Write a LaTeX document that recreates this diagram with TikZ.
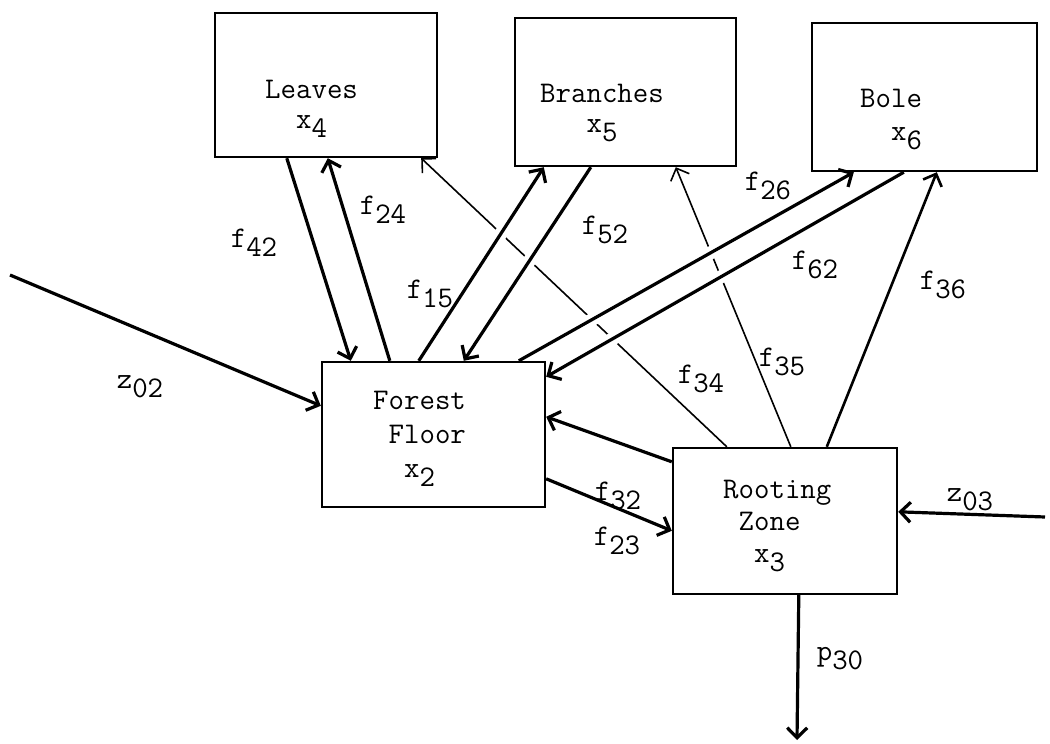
\documentclass[tikz,border=0pt]{standalone}
\usepackage{fontspec}
\usetikzlibrary{arrows.meta}
\pgfdeclarelayer{fg}
\pgfsetlayers{main,fg}
\newcommand\lowr[1]{\raisebox{-9pt}{#1}}
\begin{document}
\begin{tikzpicture}[x=1pt,y=-1pt,
  every node/.style={font=\ttfamily\fontsize{30pt}{32pt}\selectfont, inner sep=0pt},
  box/.style={draw, line width=2.4pt, rectangle},
  boxtext/.style={anchor=base west, align=left},
  flow/.style={line width=3.2pt, -{Straight Barb[length=10pt,width=20pt]}},
  midflow/.style={line width=2.6pt, -{Straight Barb[length=10pt,width=20pt]}},
  thinflow/.style={line width=1.6pt, -{Straight Barb[length=10pt,width=20pt]}},
  gapped/.style={preaction={draw=white, line width=13pt, arrows=-}},
  lab/.style={}]
\useasboundingbox (0,0) rectangle (1050,744);
\fill[white] (0,0) rectangle (1050,744);

\begin{pgfonlayer}{fg}
\node[box, minimum width=222pt, minimum height=144pt] (leaves) at (326,85) {};
\node[box, minimum width=221pt, minimum height=148pt] (branches) at (625.5,92) {};
\node[box, minimum width=225pt, minimum height=148pt] (bole) at (924.5,97) {};
\node[box, minimum width=223pt, minimum height=145pt] (forest) at (433.5,434.5) {};
\node[box, minimum width=224pt, minimum height=146pt] (rooting) at (785,521) {};

\node[boxtext, font=\ttfamily\fontsize{30pt}{30pt}\selectfont] (leavesT) at (265,128) {Leaves\\\phantom{Le}x\lowr{4}};
\node[boxtext, font=\ttfamily\fontsize{30pt}{30pt}\selectfont] (branchesT) at (540,132) {Branches\\\phantom{Bra}x\lowr{5}};
\node[boxtext, font=\ttfamily\fontsize{30pt}{33pt}\selectfont] (boleT) at (860,140) {Bole\\\phantom{Bo}x\lowr{6}};
\node[boxtext, font=\ttfamily\fontsize{30pt}{34pt}\selectfont] (forestT) at (373,477) {Forest\\\phantom{F}Floor\\\phantom{Fo}x\lowr{2}};
\node[boxtext, font=\ttfamily\fontsize{30pt}{32pt}\selectfont] (rootingT) at (723,562) {Rooting\\\phantom{R}Zone\\\phantom{Ro}x\lowr{3}};
\end{pgfonlayer}

\coordinate (z02start) at (10,275);
\coordinate (z03start) at (1045,517);
\coordinate (p30end) at (797,740);

% thin flows (drawn first so the thick ones cut gaps in them)
\draw[thinflow] ([xshift=55pt]rooting.north west) -- ([xshift=-17pt]leaves.south east);
\draw[thinflow] ([xshift=119pt]rooting.north west) -- ([xshift=162pt]branches.south west);

% thick flows
\draw[flow] ([xshift=73pt]leaves.south west) -- ([xshift=30pt]forest.north west);
\draw[flow] ([xshift=69pt]forest.north west) -- ([xshift=114pt]leaves.south west);
\draw[flow, gapped] ([xshift=98pt]forest.north west) -- ([xshift=30pt]branches.south west);
\draw[flow, gapped] ([xshift=77pt]branches.south west) -- ([xshift=143pt]forest.north west);
\draw[flow, gapped] ([xshift=198pt]forest.north west) -- ([xshift=43pt]bole.south west);
\draw[flow, gapped] ([xshift=93pt]bole.south west) -- ([yshift=-16pt]forest.north east);
\draw[midflow] ([xshift=155pt]rooting.north west) -- ([xshift=126pt]bole.south west);
\draw[flow] ([yshift=-15pt]rooting.north west) -- ([yshift=-56pt]forest.north east);
\draw[flow] ([yshift=-118pt]forest.north east) -- ([yshift=-84pt]rooting.north west);
\draw[flow] (z02start) -- ([yshift=-45pt]forest.north west);
\draw[flow] (z03start) -- ([yshift=-65pt]rooting.north east);
\draw[flow] ([xshift=127pt]rooting.south west) -- (p30end);

% labels
\node[lab] (l42) at (254,243) {f\lowr{42}};
\node[lab] (l24) at (383,210) {f\lowr{24}};
\node[lab] (l15) at (430,294) {f\lowr{15}};
\node[lab] (l52) at (605,230) {f\lowr{52}};
\node[lab] (l26) at (768,186) {f\lowr{26}};
\node[lab] (l62) at (815,265) {f\lowr{62}};
\node[lab] (l36) at (943,285) {f\lowr{36}};
\node[lab] (l35) at (782,362) {f\lowr{35}};
\node[lab] (l34) at (701,379) {f\lowr{34}};
\node[lab] (l32) at (618,496) {f\lowr{32}};
\node[lab] (l23) at (617,541) {f\lowr{23}};
\node[lab] (lz02) at (140,387) {z\lowr{02}};
\node[lab] (lz03) at (970,500) {z\lowr{03}};
\node[lab] (lp30) at (840,659) {p\lowr{30}};
\end{tikzpicture}
\end{document}
